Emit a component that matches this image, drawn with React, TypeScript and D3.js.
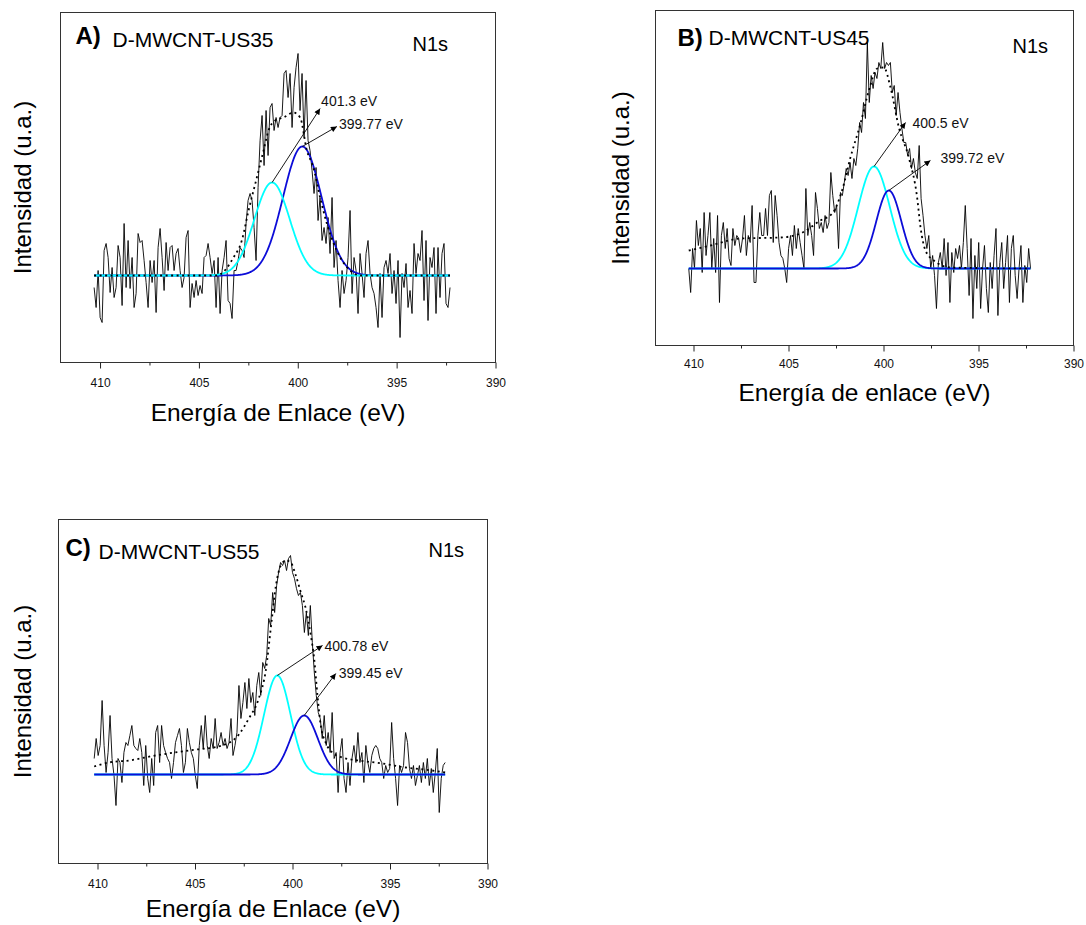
import React, { useEffect, useRef } from 'react';
import * as d3 from 'd3';

const FONT = '"Liberation Sans", Arial, Helvetica, sans-serif';

// binding energy axis (reversed, eV)
const energyDomain = [412, 390];
const majorTicks = [410, 405, 400, 395, 390];
const minorTicks = [407.5, 402.5, 397.5, 392.5];

// ---------- A) D-MWCNT-US35 ----------
const rangeA = [410.3, 392.3];
const rawA = [
  -12, -32, 5, -42, -47, 25, 32, 18, -17, 8,
  -22, -12, 30, 18, -30, 52, -12, 35, -13, 18,
  -32, -18, 42, 33, 35, 15, -7, -32, 15, -7,
  15, -37, 28, 47, 18, -15, 33, 5, 28, 30,
  5, 22, 27, 5, -12, -2, 38, 45, -32, -8,
  -22, -5, -20, -10, -18, 18, 20, 32, 18, 2,
  15, -32, 18, -38, 5, 18, 35, -25, -28, -43,
  5, 5, 15, 28, 25, 18, 52, 75, 82, 75,
  48, 15, 88, 135, 160, 110, 165, 120, 168, 172,
  145, 158, 148, 158, 160, 202, 205, 178, 202, 148,
  188, 208, 222, 165, 202, 138, 195, 135, 125, 105,
  82, 108, 55, 78, 35, 48, 32, 58, 22, 78,
  8, 35, -5, -32, 5, -18, -5, 18, 65, -18,
  18, 5, -38, 22, 2, -22, 22, 35, 2, -12,
  -18, -32, -52, 2, -42, 8, 15, 2, 22, -18,
  5, -28, 15, -62, 2, -12, 12, -32, -15, -38,
  32, 2, 22, 15, 45, -25, 35, -45, 18, 8,
  28, -38, 28, -22, 22, 32, -28, -32, -12,
];
const envelopeA = [
  [410.3, 0], [404.1, 0], [403.25, 18], [402.83, 35], [402.49, 65], [402.07, 98],
  [401.73, 125], [401.48, 145], [401.14, 155], [400.72, 158], [400.22, 163],
  [399.88, 158], [399.54, 125], [399.21, 108], [398.87, 78], [398.53, 52],
  [398.03, 25], [397.35, 5], [396.85, 0], [392.3, 0],
];
// [center eV, height, FWHM eV]
const peaksA = [[401.3, 93, 2.1], [399.77, 129, 2.3]];
const labelsA = ['401.3 eV', '399.77 eV'];
const tipsA = [[398.87, 167], [398.02, 149]];

// ---------- B) D-MWCNT-US45 ----------
const rangeB = [410.25, 392.26];
const rawB = [
  0, -24, 20, 0, 48, 23, 40, -4, 56, 13,
  33, 56, 0, 30, -4, 53, -34, 33, 46, 20,
  40, 10, 3, 40, 23, 33, 30, 16, 30, 53,
  13, 33, 26, 63, -14, -14, 33, 56, 33, 33,
  60, 33, 73, 78, 26, 73, 53, 26, 13, 10,
  0, -14, 20, 33, 13, 43, 20, 40, 26, 13,
  0, 80, 33, 46, 33, 13, 76, 60, 40, 46,
  36, 53, 40, 46, 96, 73, 56, 63, 20, 76,
  73, 86, 100, 93, 106, 90, 110, 103, 120, 146,
  136, 166, 150, 226, 166, 193, 180, 196, 190, 206,
  200, 226, 200, 206, 203, 206, 176, 183, 153, 176,
  156, 140, 126, 126, 113, 120, 100, 110, 96, 90,
  123, 70, 53, 33, 20, 33, 0, 13, -7, -40,
  6, 16, 0, 30, -7, 26, -34, 16, -4, 20,
  10, 23, 0, 26, 63, 20, -27, 30, -50, 13,
  -20, 26, -40, 0, 23, -20, -44, 6, -20, 13,
  40, -47, 6, 26, -20, 6, 33, -34, 20, 33,
  -7, -30, 0, 23, -34, 3, -14, 20, 0,
];
const envelopeB = [
  [410.25, 18], [409.11, 23], [407.53, 30], [405.42, 31], [404.37, 35], [403.32, 48],
  [402.7, 55], [402.18, 78], [401.74, 111], [401.21, 145], [400.77, 178], [400.33, 200],
  [399.98, 201], [399.63, 181], [399.19, 141], [398.67, 111], [398.23, 71], [398.05, 41],
  [397.79, 18], [397.35, 8], [396.47, 1], [392.26, 0],
];
const peaksB = [[400.5, 102, 1.95], [399.72, 78, 1.55]];
const labelsB = ['400.5 eV', '399.72 eV'];
const tipsB = [[398.84, 146], [397.53, 108]];

// ---------- C) D-MWCNT-US55 ----------
const rangeC = [410.17, 392.17];
const rawC = [
  16, 36, 19, 29, 74, 29, 2, 22, 59, 16,
  -1, -31, 16, 12, -8, 22, 32, 29, 39, 49,
  29, 26, 24, 36, 22, -11, 29, -4, -18, 16,
  -11, 42, 49, 12, 49, 29, 22, 16, 12, -4,
  12, 32, 39, 46, 29, 2, 12, 46, 32, 22,
  16, -1, -14, 29, 49, 26, 59, 29, 16, 36,
  26, 56, 26, 32, 42, 29, 36, 26, 32, 56,
  19, 29, 42, 89, 56, 72, 92, 66, 96, 72,
  82, 59, 89, 102, 79, 112, 106, 119, 156, 149,
  182, 162, 189, 202, 212, 209, 214, 204, 216, 219,
  202, 196, 186, 179, 182, 169, 142, 162, 139, 169,
  132, 102, 79, 62, 56, 36, 59, 29, 42, 22,
  62, 16, 22, -18, 22, 36, -4, -18, 12, -11,
  16, 29, 12, 42, 12, 22, -8, 29, 12, 2,
  19, 26, 29, 26, 16, 12, -4, 9, 2, 6,
  52, 16, -4, -31, 9, 2, 9, 42, 32, 6,
  -4, 9, -11, -1, 9, -8, 12, -4, 16, -11,
  6, -18, 2, 26, -38, -4, 9, 12,
];
const envelopeC = [
  [410.17, 8], [409.42, 12], [408.39, 14], [407.03, 19], [405.32, 24], [403.61, 29],
  [402.75, 40], [402.24, 56], [401.73, 76], [401.37, 104], [401.08, 152], [400.85, 189],
  [400.6, 209], [400.34, 214], [400.09, 212], [399.83, 199], [399.57, 182], [399.32, 166],
  [399.06, 139], [398.89, 116], [398.72, 79], [398.55, 49], [398.3, 32], [397.96, 22],
  [397.44, 17], [396.59, 14], [395.39, 11], [394.2, 7], [392.83, 4], [392.17, 2],
];
const peaksC = [[400.78, 99, 1.6], [399.4, 59, 1.65]];
const labelsC = ['400.78 eV', '399.45 eV'];
const tipsC = [[398.46, 129], [397.78, 101]];

const CYAN = '#00ffff';
const BLUE = '#0c0cd8';

// layout of the three frames (pixels)
const panels = [
  {
    left: 60, top: 12, width: 435, height: 350, yDomain: [-87, 263],
    range: rangeA, raw: rawA, envelope: envelopeA, peaks: peaksA, labels: labelsA, tips: tipsA,
    labelOffsets: [[1, -3], [2, 2]], fitOrder: [1, 0],
    letter: 'A)', letterPos: [15, 31], name: 'D-MWCNT-US35', namePos: [52, 34], n1sPos: [352, 38],
    xTitle: 'Energía de Enlace (eV)', xTitleY: 58, tickLabelY: 24, yTitleX: -30,
  },
  {
    left: 655, top: 10, width: 418, height: 335, yDomain: [-77, 258],
    range: rangeB, raw: rawB, envelope: envelopeB, peaks: peaksB, labels: labelsB, tips: tipsB,
    labelOffsets: [[7, 5], [10, 2]], fitOrder: [0, 1],
    letter: 'B)', letterPos: [22, 35], name: 'D-MWCNT-US45', namePos: [53, 34], n1sPos: [357, 42],
    xTitle: 'Energía de enlace (eV)', xTitleY: 55, tickLabelY: 22, yTitleX: -27,
  },
  {
    left: 58, top: 519, width: 429, height: 344, yDomain: [-89, 255],
    range: rangeC, raw: rawC, envelope: envelopeC, peaks: peaksC, labels: labelsC, tips: tipsC,
    labelOffsets: [[2, 5], [3, 4]], fitOrder: [0, 1],
    letter: 'C)', letterPos: [7, 36], name: 'D-MWCNT-US55', namePos: [40, 39], n1sPos: [370, 37],
    xTitle: 'Energía de Enlace (eV)', xTitleY: 53, tickLabelY: 24, yTitleX: -28,
  },
];

function gauss(e: number, peak: number[]) {
  const [c, h, w] = peak;
  return h * Math.exp((-4 * Math.LN2 * (e - c) * (e - c)) / (w * w));
}

function drawPanel(svg: any, p: any) {
  const g = svg.append('g').attr('transform', `translate(${p.left + 0.5},${p.top + 0.5})`);

  const x = d3.scaleLinear().domain(energyDomain).range([0, p.width]);
  const y = d3.scaleLinear().domain(p.yDomain).range([p.height, 0]);

  g.append('rect')
    .attr('width', p.width)
    .attr('height', p.height)
    .attr('fill', 'none')
    .attr('stroke', '#333')
    .attr('stroke-width', 1);

  const major = g.append('g')
    .attr('transform', `translate(0,${p.height})`)
    .call(d3.axisBottom(x).tickValues(majorTicks).tickSize(6).tickFormat(d3.format('d')));
  major.select('.domain').remove();
  major.selectAll('line').attr('stroke', '#222');
  major.selectAll('text')
    .attr('y', p.tickLabelY)
    .attr('dy', null)
    .attr('fill', '#111')
    .attr('font-family', FONT)
    .attr('font-size', 12);

  const minor = g.append('g')
    .attr('transform', `translate(0,${p.height})`)
    .call(d3.axisBottom(x).tickValues(minorTicks).tickSize(3).tickFormat(() => ''));
  minor.select('.domain').remove();
  minor.selectAll('line').attr('stroke', '#222');

  // raw spectrum
  const n = p.raw.length;
  const eAt = (i: number) => p.range[0] + ((p.range[1] - p.range[0]) * i) / (n - 1);
  const rawLine = d3.line<number>().x((d, i) => x(eAt(i))).y((d) => y(d));
  g.append('path')
    .attr('d', rawLine(p.raw))
    .attr('fill', 'none')
    .attr('stroke', '#000')
    .attr('stroke-width', 0.9)
    .attr('stroke-linejoin', 'round');

  // fitted components
  const grid = d3.range(p.range[0], p.range[1] - 0.001, -0.02);
  const fitColors = [CYAN, BLUE];
  p.fitOrder.forEach((k: number) => {
    const fit = d3.line<number>().x((e) => x(e)).y((e) => y(gauss(e, p.peaks[k])));
    g.append('path')
      .attr('d', fit(grid))
      .attr('fill', 'none')
      .attr('stroke', fitColors[k])
      .attr('stroke-width', 1.8);
  });

  // envelope (dotted)
  const env = d3.line<number[]>().x((d) => x(d[0])).y((d) => y(d[1])).curve(d3.curveMonotoneX);
  g.append('path')
    .attr('d', env(p.envelope))
    .attr('fill', 'none')
    .attr('stroke', '#000')
    .attr('stroke-width', 1.8)
    .attr('stroke-dasharray', '2 3.5');

  // peak annotations
  p.peaks.forEach((pk: number[], k: number) => {
    const tip = p.tips[k];
    g.append('line')
      .attr('x1', x(pk[0]))
      .attr('y1', y(pk[1]))
      .attr('x2', x(tip[0]))
      .attr('y2', y(tip[1]))
      .attr('stroke', '#000')
      .attr('stroke-width', 0.9)
      .attr('marker-end', 'url(#arrowhead)');
    g.append('text')
      .attr('x', x(tip[0]) + p.labelOffsets[k][0])
      .attr('y', y(tip[1]) + p.labelOffsets[k][1])
      .attr('font-family', FONT)
      .attr('font-size', 14)
      .attr('fill', '#111')
      .text(p.labels[k]);
  });

  // titles
  g.append('text')
    .attr('x', p.letterPos[0]).attr('y', p.letterPos[1])
    .attr('font-family', FONT).attr('font-size', 24).attr('font-weight', 'bold')
    .text(p.letter);
  g.append('text')
    .attr('x', p.namePos[0]).attr('y', p.namePos[1])
    .attr('font-family', FONT).attr('font-size', 21)
    .text(p.name);
  g.append('text')
    .attr('x', p.n1sPos[0]).attr('y', p.n1sPos[1])
    .attr('font-family', FONT).attr('font-size', 20)
    .text('N1s');

  g.append('text')
    .attr('x', p.width / 2).attr('y', p.height + p.xTitleY)
    .attr('text-anchor', 'middle')
    .attr('font-family', FONT).attr('font-size', 24.5)
    .text(p.xTitle);
  g.append('text')
    .attr('transform', `translate(${p.yTitleX},${p.height / 2}) rotate(-90)`)
    .attr('text-anchor', 'middle')
    .attr('font-family', FONT).attr('font-size', 24)
    .text('Intensidad (u.a.)');
}

export default function App() {
  const ref = useRef<SVGSVGElement>(null);

  useEffect(() => {
    const svg = d3.select(ref.current);
    svg.selectAll('*').remove();

    svg.append('defs')
      .append('marker')
      .attr('id', 'arrowhead')
      .attr('viewBox', '0 0 10 10')
      .attr('refX', 10)
      .attr('refY', 5)
      .attr('markerWidth', 9)
      .attr('markerHeight', 6)
      .attr('markerUnits', 'userSpaceOnUse')
      .attr('orient', 'auto')
      .append('path')
      .attr('d', 'M0,0 L10,5 L0,10 z')
      .attr('fill', '#000');

    panels.forEach((p) => drawPanel(svg, p));
  }, []);

  return (
    <svg
      ref={ref}
      width={1086}
      height={925}
      style={{ position: 'absolute', left: 0, top: 0, background: '#fff' }}
    />
  );
}
